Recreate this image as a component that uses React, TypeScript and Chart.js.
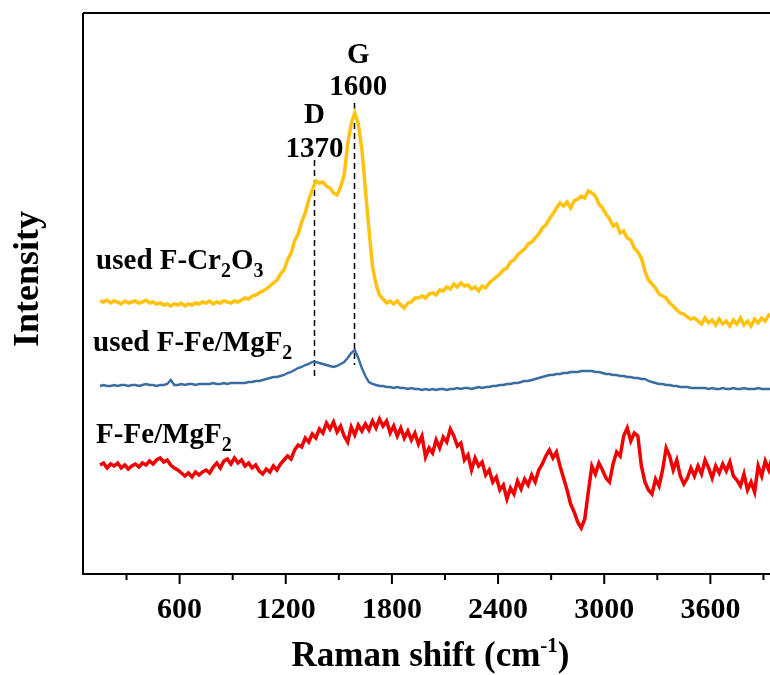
import React, { useEffect, useRef } from 'react';
import { Chart, registerables } from 'chart.js';

Chart.register(...registerables);

// Raman shift grid (cm-1)
const ramanShift = [
  150,170,190,210,230,250,270,290,310,330,
  350,370,390,410,430,450,470,490,510,530,
  550,570,590,610,630,650,670,690,710,730,
  750,770,790,810,830,850,870,890,910,930,
  950,970,990,1010,1030,1050,1070,1090,1110,1130,
  1150,1170,1190,1210,1230,1250,1270,1290,1310,1330,
  1350,1370,1390,1410,1430,1450,1470,1490,1510,1530,
  1550,1570,1590,1610,1630,1650,1670,1690,1710,1730,
  1750,1770,1790,1810,1830,1850,1870,1890,1910,1930,
  1950,1970,1990,2010,2030,2050,2070,2090,2110,2130,
  2150,2170,2190,2210,2230,2250,2270,2290,2310,2330,
  2350,2370,2390,2410,2430,2450,2470,2490,2510,2530,
  2550,2570,2590,2610,2630,2650,2670,2690,2710,2730,
  2750,2770,2790,2810,2830,2850,2870,2890,2910,2930,
  2950,2970,2990,3010,3030,3050,3070,3090,3110,3130,
  3150,3170,3190,3210,3230,3250,3270,3290,3310,3330,
  3350,3370,3390,3410,3430,3450,3470,3490,3510,3530,
  3550,3570,3590,3610,3630,3650,3670,3690,3710,3730,
  3750,3770,3790,3810,3830,3850,3870,3890,3910,3930,
  3950,
];

// used F-Cr2O3 (offset intensity, a.u.)
const usedCr2O3 = [
  273,272,274,271,273,272,270,273,271,272,
  273,271,272,274,271,272,270,271,269,270,
  268,270,269,271,268,270,269,271,270,272,
  271,273,270,272,271,273,272,271,273,272,
  274,276,275,278,279,281,283,285,288,291,
  294,300,304,314,321,333,340,352,361,374,
  384,393,391,392,388,386,381,379,387,399,
  430,450,461,450,425,385,345,308,290,279,
  275,271,273,270,273,269,266,271,272,276,
  276,278,276,280,281,279,284,283,287,285,
  290,287,291,288,289,285,287,283,288,286,
  291,294,297,300,304,306,312,314,319,322,
  325,330,332,336,340,346,349,355,360,366,
  371,368,372,366,373,375,378,376,383,381,
  378,370,366,360,355,348,350,341,343,336,
  334,326,322,316,303,294,290,286,280,278,
  276,271,268,264,261,260,257,255,256,253,
  250,256,251,254,249,255,250,253,248,254,
  250,256,249,253,248,255,251,256,253,259,
  257,
];

// used F-Fe/MgF2
const usedFeMgF2 = [
  188,189,188,188,189,188,189,189,188,189,
  189,188,189,190,189,189,188,189,189,190,
  194,189,189,190,189,190,190,189,190,190,
  190,190,191,190,190,191,190,191,191,191,
  191,191,192,192,193,193,194,195,196,197,
  197,198,199,201,202,204,206,207,209,210,
  212,212,211,210,209,208,207,208,210,212,
  216,221,224,216,206,198,192,190,189,188,
  188,187,187,186,187,186,186,185,186,185,
  185,184,185,184,185,184,185,185,184,185,
  185,186,185,186,186,185,186,187,186,187,
  187,188,188,189,189,190,190,191,191,192,
  193,193,194,195,196,197,198,199,199,200,
  200,201,201,202,202,202,203,203,203,203,
  202,202,201,200,200,199,199,198,198,197,
  197,196,196,195,195,193,192,191,190,190,
  189,189,188,188,187,187,187,186,186,186,
  186,186,185,186,185,185,186,185,185,186,
  185,185,186,185,185,185,186,185,185,185,
  185,
];

// F-Fe/MgF2
const freshFeMgF2 = [
  109,111,106,110,108,111,106,109,105,108,
  110,107,111,109,113,110,114,116,112,114,
  109,106,104,101,98,101,97,102,99,102,
  104,101,107,111,106,113,115,110,116,111,
  114,108,111,106,109,103,100,105,102,108,
  104,110,114,118,115,124,129,127,136,132,
  140,136,145,141,151,145,152,142,148,138,
  132,147,139,149,143,150,144,153,146,155,
  148,153,141,148,138,146,136,143,134,141,
  130,138,117,126,121,134,126,137,132,145,
  138,128,131,114,119,104,116,108,112,99,
  104,92,97,84,89,75,86,80,93,85,
  95,89,99,92,104,110,118,124,116,122,
  108,96,84,70,62,52,46,55,82,108,
  100,111,104,96,92,110,122,118,138,146,
  133,141,138,108,92,84,80,95,88,104,
  126,118,104,114,98,90,96,106,98,108,
  100,114,106,96,108,101,110,103,112,98,
  94,88,100,84,92,82,108,98,113,104,
  117,
];

const majorTicks = [600, 1200, 1800, 2400, 3000, 3600];
const minorTicks = [300, 900, 1500, 2100, 2700, 3300, 3900];

// peak markers
const peakNames = ['D', 'G'];
const peakLabels = ['1370', '1600'];
const peakLinePos = [1360, 1586];
const peakLabelPos = [1362, 1610];
const peakLineTop = [414, 471];
const peakLineBottom = [194, 209];
const peakNameBase = [451, 511];
const peakValueBase = [417, 479];

// series labels: parts, '_' prefix = subscript
const seriesLabelParts = [
  ['used F-Cr', '_2', 'O', '_3'],
  ['used F-Fe/MgF', '_2'],
  ['F-Fe/MgF', '_2'],
];
const seriesLabelX = [128, 111, 128];
const seriesLabelY = [305, 223, 131];

const FONT = '"Liberation Serif", "Times New Roman", serif';

function drawRich(ctx: CanvasRenderingContext2D, parts: string[], x: number, y: number, size: number, subSize: number, subDy: number) {
  let cx = x;
  for (const p of parts) {
    const isSub = p.startsWith('_');
    const isSup = p.startsWith('^');
    const t = isSub || isSup ? p.slice(1) : p;
    ctx.font = `bold ${isSub || isSup ? subSize : size}px ${FONT}`;
    const dy = isSub ? subDy : isSup ? -subDy : 0;
    ctx.fillText(t, cx, y + dy);
    cx += ctx.measureText(t).width;
  }
  return cx - x;
}

function richWidth(ctx: CanvasRenderingContext2D, parts: string[], size: number, subSize: number) {
  let w = 0;
  for (const p of parts) {
    const isS = p.startsWith('_') || p.startsWith('^');
    const t = isS ? p.slice(1) : p;
    ctx.font = `bold ${isS ? subSize : size}px ${FONT}`;
    w += ctx.measureText(t).width;
  }
  return w;
}

const decorPlugin = {
  id: 'decor',
  beforeDatasetsDraw(chart: any) {
    const { ctx } = chart;
    const xs = chart.scales.x;
    const ys = chart.scales.y;
    ctx.save();
    ctx.strokeStyle = '#000';
    ctx.lineWidth = 1.5;
    ctx.setLineDash([6, 4]);
    for (let i = 0; i < peakLinePos.length; i++) {
      const px = Math.round(xs.getPixelForValue(peakLinePos[i])) + 0.5;
      ctx.beginPath();
      ctx.moveTo(px, ys.getPixelForValue(peakLineTop[i]));
      ctx.lineTo(px, ys.getPixelForValue(peakLineBottom[i]));
      ctx.stroke();
    }
    ctx.restore();
  },
  afterDraw(chart: any) {
    const { ctx, chartArea } = chart;
    const xs = chart.scales.x;
    const ys = chart.scales.y;
    const { left, right, top, bottom } = chartArea;
    ctx.save();
    ctx.setLineDash([]);
    ctx.strokeStyle = '#000';
    ctx.lineWidth = 2;
    ctx.beginPath();
    ctx.moveTo(left, top);
    ctx.lineTo(right, top);
    ctx.moveTo(left, top);
    ctx.lineTo(left, bottom);
    ctx.moveTo(left - 1, bottom);
    ctx.lineTo(right, bottom);
    ctx.stroke();
    // ticks
    for (const v of majorTicks) {
      const px = xs.getPixelForValue(v);
      ctx.beginPath();
      ctx.moveTo(px, bottom);
      ctx.lineTo(px, bottom + 10);
      ctx.stroke();
    }
    for (const v of minorTicks) {
      const px = xs.getPixelForValue(v);
      ctx.beginPath();
      ctx.moveTo(px, bottom);
      ctx.lineTo(px, bottom + 6);
      ctx.stroke();
    }
    ctx.fillStyle = '#000';
    ctx.textBaseline = 'alphabetic';
    ctx.textAlign = 'center';
    ctx.font = `bold 30px ${FONT}`;
    for (const v of majorTicks) {
      ctx.fillText(String(v), xs.getPixelForValue(v), bottom + 44);
    }
    // peak labels
    ctx.font = `bold 29px ${FONT}`;
    for (let i = 0; i < peakNames.length; i++) {
      const px = xs.getPixelForValue(peakLabelPos[i]);
      ctx.fillText(peakNames[i], px, ys.getPixelForValue(peakNameBase[i]));
      ctx.fillText(peakLabels[i], px, ys.getPixelForValue(peakValueBase[i]));
    }
    // series labels
    ctx.textAlign = 'left';
    for (let i = 0; i < seriesLabelParts.length; i++) {
      drawRich(ctx, seriesLabelParts[i], xs.getPixelForValue(seriesLabelX[i]), ys.getPixelForValue(seriesLabelY[i]), 29, 20, 8);
    }
    // x title
    const xt = ['Raman shift (cm', '^-1', ')'];
    const w = richWidth(ctx, xt, 35, 21);
    drawRich(ctx, xt, (left + right) / 2 + 4 - w / 2, bottom + 92, 35, 21, 14);
    // y title
    ctx.save();
    ctx.translate(38, 279);
    ctx.rotate(-Math.PI / 2);
    ctx.textAlign = 'center';
    ctx.font = `bold 36px ${FONT}`;
    ctx.fillText('Intensity', 0, 0);
    ctx.restore();
    ctx.restore();
  },
};

export default function App() {
  const ref = useRef<HTMLCanvasElement | null>(null);
  useEffect(() => {
    if (!ref.current) return;
    const toPoints = (ys: number[]) => ramanShift.map((x, i) => ({ x, y: ys[i] }));
    const chart = new Chart(ref.current, {
      type: 'line',
      data: {
        datasets: [
          { label: 'used F-Cr2O3', data: toPoints(usedCr2O3), borderColor: '#FFC20E', borderWidth: 3.5, pointRadius: 0, tension: 0 },
          { label: 'used F-Fe/MgF2', data: toPoints(usedFeMgF2), borderColor: '#3A6CA2', borderWidth: 2.4, pointRadius: 0, tension: 0 },
          { label: 'F-Fe/MgF2', data: toPoints(freshFeMgF2), borderColor: '#F00000', borderWidth: 3.5, pointRadius: 0, tension: 0 },
        ],
      },
      options: {
        responsive: false,
        animation: false,
        layout: { padding: { left: 83, top: 13, right: 0, bottom: 101 } },
        plugins: { legend: { display: false }, tooltip: { enabled: false } },
        scales: {
          x: { type: 'linear', min: 54, max: 3937, display: false },
          y: { type: 'linear', min: 0, max: 561, display: false },
        },
      },
      plugins: [decorPlugin],
    });
    return () => chart.destroy();
  }, []);
  return (
    <canvas
      ref={ref}
      width={770}
      height={675}
      style={{ position: 'absolute', left: 0, top: 0, width: 770, height: 675, background: '#fff' }}
    />
  );
}
